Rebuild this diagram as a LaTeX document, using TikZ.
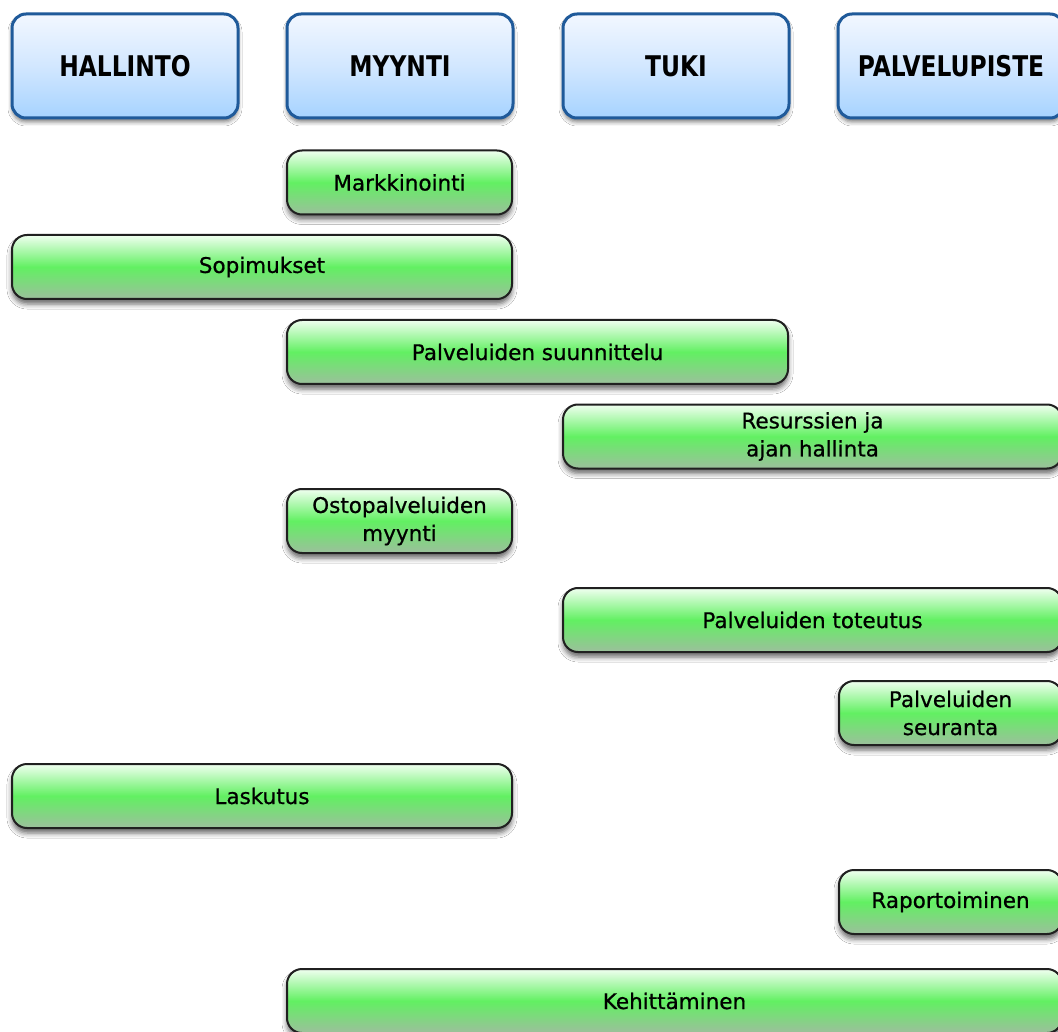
\documentclass[tikz,border=0pt]{standalone}
\usepackage{fontspec}
\setmainfont{DejaVu Sans}
\newfontfamily\hdrfont[FakeStretch=0.82]{DejaVu Sans Bold}
\newfontfamily\actfont[FakeBold=0.7]{DejaVu Sans}
\usetikzlibrary{shadows.blur}
\definecolor{hdrborder}{HTML}{1F5A9A}
\definecolor{hdrtop}{HTML}{F2F7FF}
\definecolor{hdrmid}{HTML}{D2E7FF}
\definecolor{hdrbot}{HTML}{A6D3FF}
\definecolor{gtop}{HTML}{F0FFF0}
\definecolor{gmid}{HTML}{62F062}
\definecolor{gbot}{HTML}{9CBF9C}
\definecolor{gborder}{HTML}{202020}
\tikzset{
  hdrbox/.style={rectangle, rounded corners=14pt, draw=hdrborder, line width=3pt,
    top color=hdrtop, bottom color=hdrbot, middle color=hdrmid,
    minimum width=226pt, minimum height=104pt, inner sep=0pt,
    font=\hdrfont\fontsize{28.5}{31}\selectfont, text=black,
    blur shadow={shadow xshift=0pt, shadow yshift=-4pt, shadow blur radius=4pt, shadow opacity=50}},
  gbox/.style={rectangle, rounded corners=15pt, draw=gborder, line width=2pt,
    top color=gtop, bottom color=gbot, middle color=gmid,
    minimum height=64pt, inner sep=0pt, align=center,
    font=\actfont\fontsize{21.5}{28}\selectfont, text=black,
    blur shadow={shadow xshift=0pt, shadow yshift=-5pt, shadow blur radius=5pt, shadow opacity=60}}
}
\begin{document}
\begin{tikzpicture}[x=1pt,y=-1pt]
\clip (0,0) rectangle (1058,1032);
\fill[white] (0,0) rectangle (1058,1032);
% headers
\node[hdrbox] (hallinto) at (125,66) {HALLINTO};
\node[hdrbox] (myynti) at (400,66) {MYYNTI};
\node[hdrbox] (tuki) at (676,66) {TUKI};
\node[hdrbox] (palvelupiste) at (951,66) {PALVELUPISTE};
% activities
\node[gbox, minimum width=225pt] (markkinointi) at (399.5,182.5) {Markkinointi};
\node[gbox, minimum width=500pt] (sopimukset) at (262,267) {Sopimukset};
\node[gbox, minimum width=501pt] (suunnittelu) at (537.5,352) {Palveluiden suunnittelu};
\node[gbox, minimum width=499pt] (resurssit) at (812.5,436.5) {Resurssien ja\\ajan hallinta};
\node[gbox, minimum width=225pt] (ostopalvelut) at (399.5,521) {Ostopalveluiden\\myynti};
\node[gbox, minimum width=499pt] (toteutus) at (812.5,620) {Palveluiden toteutus};
\node[gbox, minimum width=223pt] (seuranta) at (950.5,713) {Palveluiden\\seuranta};
\node[gbox, minimum width=500pt] (laskutus) at (262,796) {Laskutus};
\node[gbox, minimum width=223pt] (raportointi) at (950.5,902) {Raportoiminen};
\node[gbox, minimum width=775pt] (kehittaminen) at (674.5,1001) {Kehittäminen};
\end{tikzpicture}
\end{document}
